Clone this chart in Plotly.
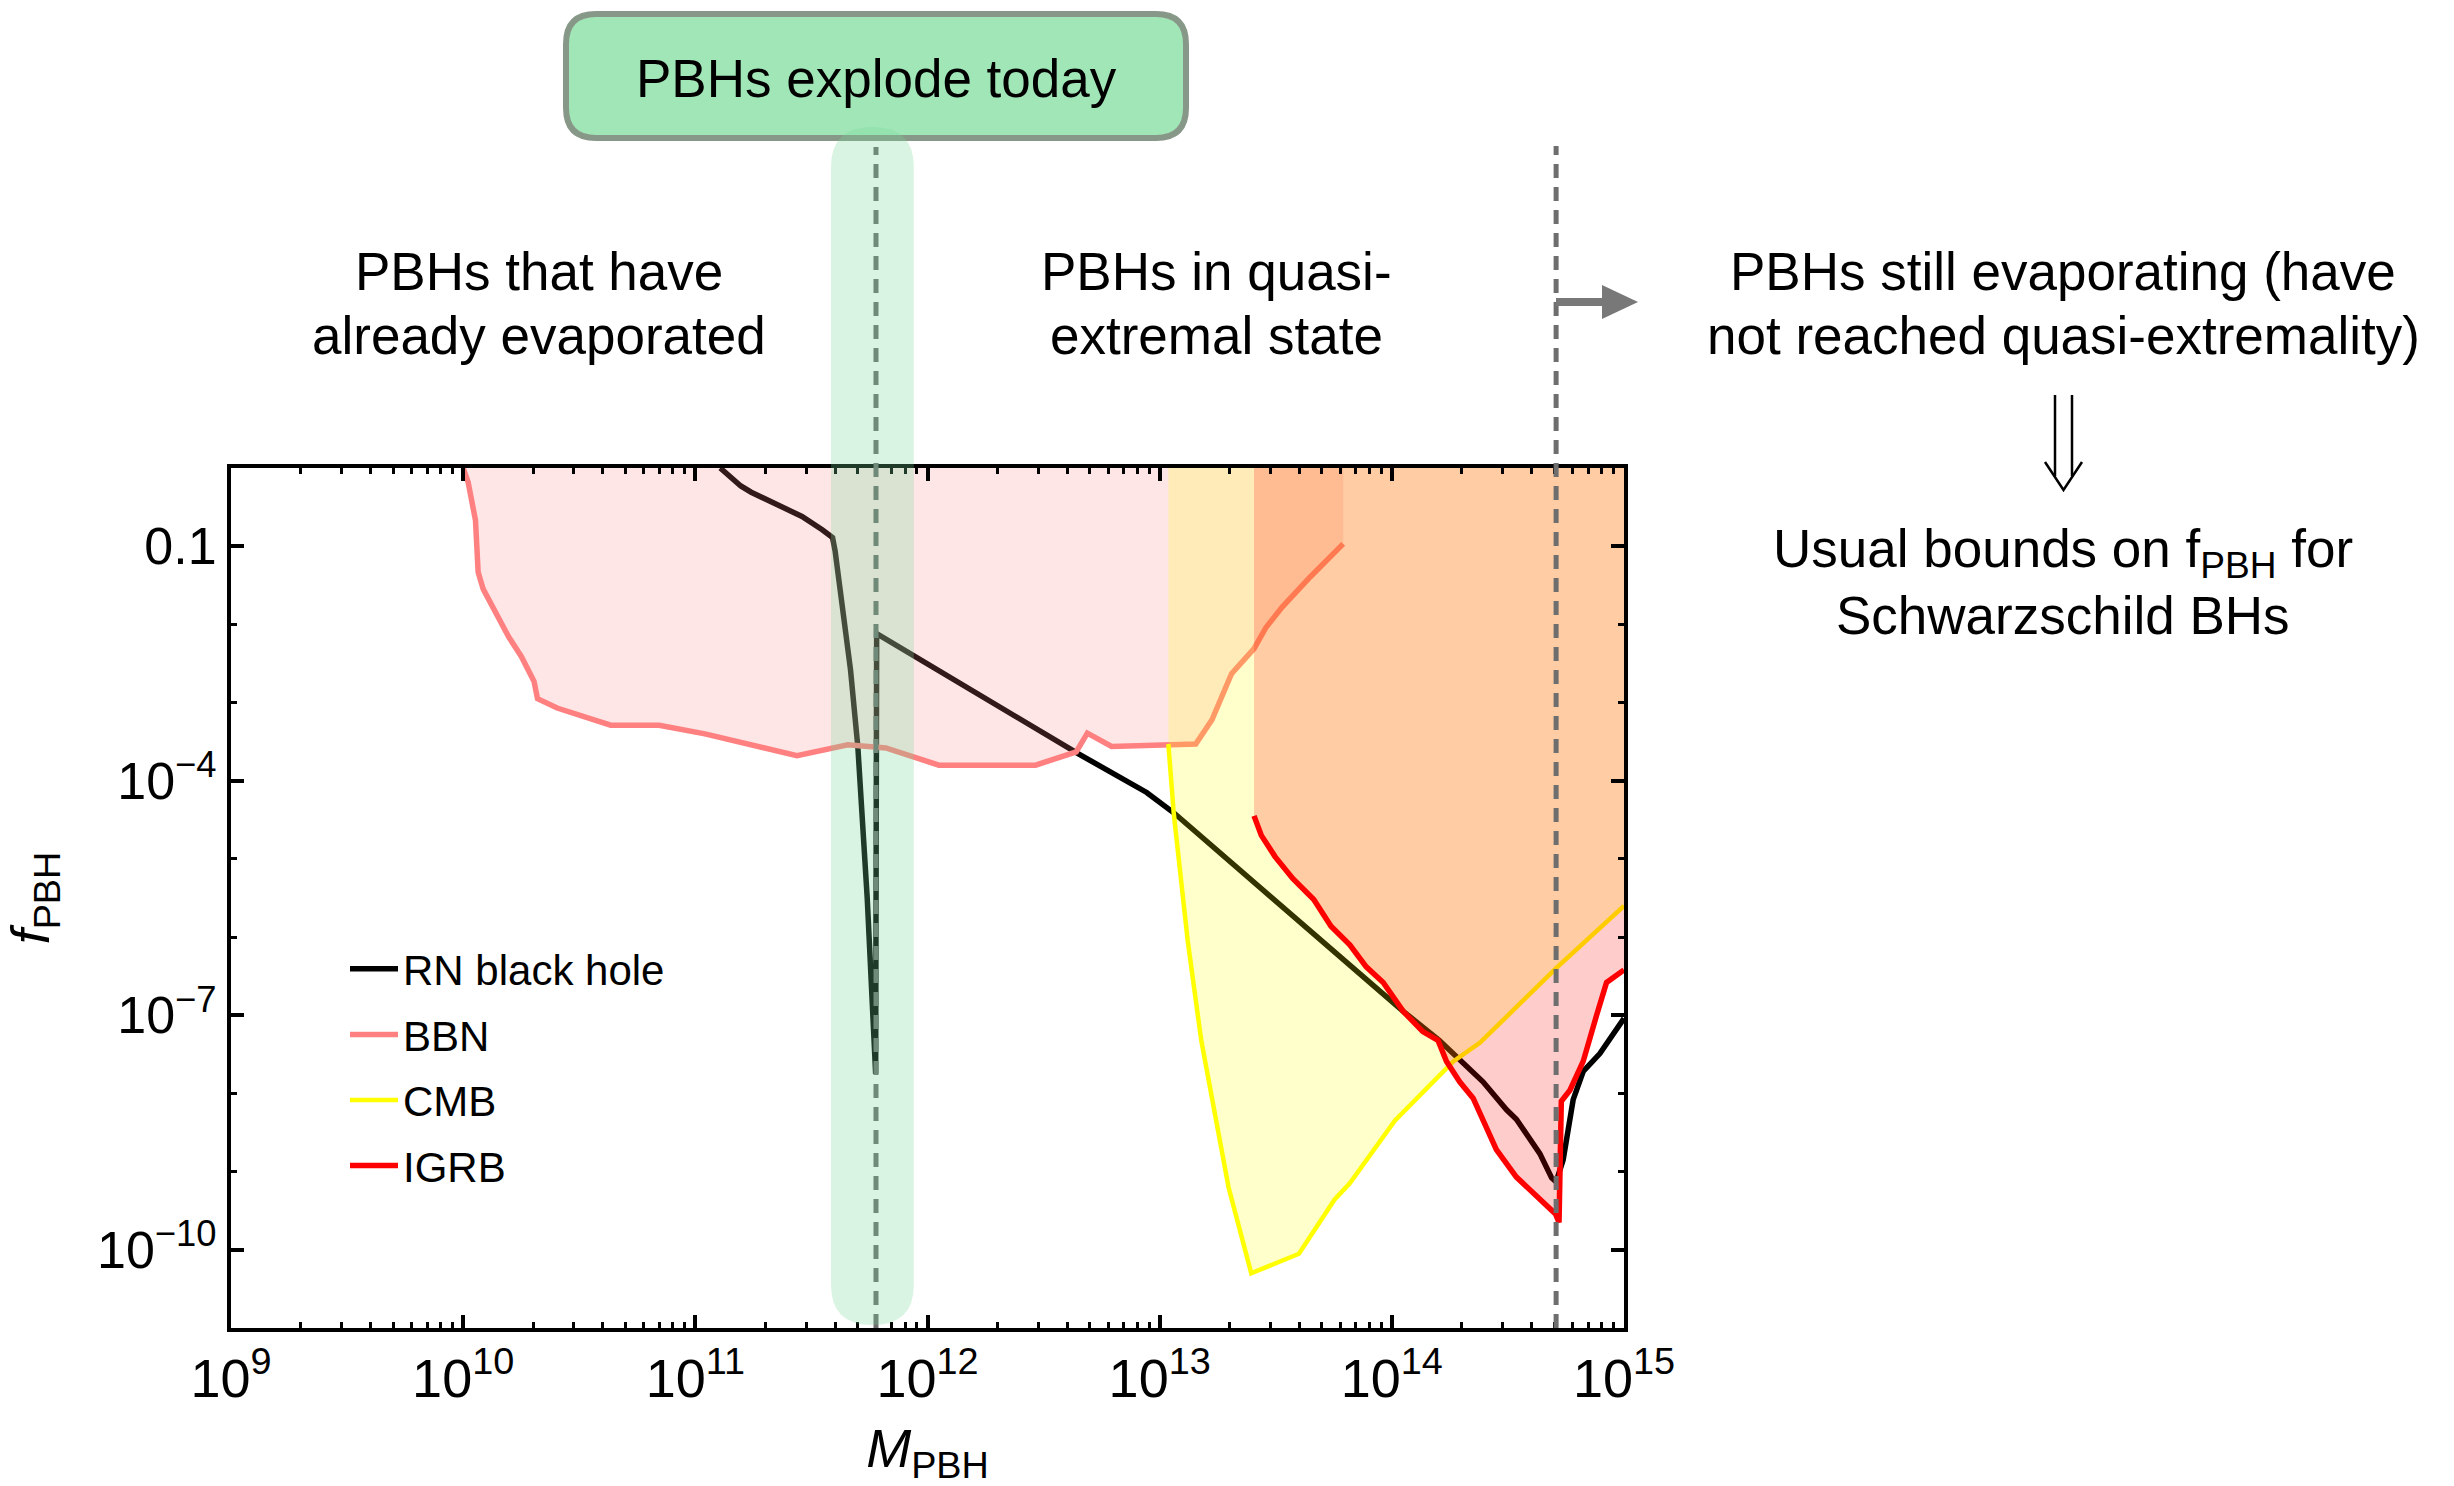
import math
import plotly.graph_objects as go

# ---------------- data ----------------
# RN black hole bound (M_PBH [g], f_PBH)
RN_M = [1.28e11, 1.57e11, 1.74e11, 2.88e11, 3.52e11, 3.90e11, 4.00e11, 4.32e11,
        4.66e11, 5.01e11, 5.50e11, 5.98e11, 6.04e11, 4.49e12, 8.79e12, 1.15e13,
        1.12e14, 1.60e14, 1.90e14, 2.47e14, 3.12e14, 3.44e14, 4.34e14, 4.88e14,
        5.10e14, 5.47e14, 6.04e14, 6.67e14, 7.87e14, 1.0e15]
RN_F = [1.0, 0.589, 0.490, 0.240, 0.162, 0.129, 0.0871, 0.0141,
        2.63e-3, 2.75e-4, 3.16e-6, 1.78e-8, 7.59e-3, 2.19e-4, 7.08e-5, 3.89e-5,
        1.12e-7, 4.79e-8, 2.95e-8, 1.41e-8, 6.17e-9, 4.68e-9, 1.70e-9, 8.32e-10,
        7.41e-10, 1.41e-9, 8.32e-9, 1.91e-8, 3.24e-8, 9.12e-8]

# BBN bound
BBN_M = [1.0e10, 1.05e10, 1.13e10, 1.16e10, 1.22e10, 1.38e10, 1.57e10, 1.78e10,
         2.02e10, 2.09e10, 2.54e10, 4.32e10, 6.98e10, 1.10e11, 2.74e11, 4.54e11,
         6.61e11, 1.12e12, 2.92e12, 4.37e12, 4.88e12, 6.21e12, 1.09e13, 1.43e13,
         1.68e13, 2.04e13, 2.55e13, 2.87e13, 3.37e13, 4.46e13, 6.17e13]
BBN_F = [1.0, 0.661, 0.214, 0.0468, 0.0282, 0.0141, 6.92e-3, 3.89e-3,
         1.86e-3, 1.12e-3, 8.51e-4, 5.13e-4, 5.13e-4, 3.98e-4, 2.09e-4, 2.88e-4,
         2.63e-4, 1.58e-4, 1.58e-4, 2.34e-4, 4.07e-4, 2.75e-4, 2.95e-4, 2.95e-4,
         6.03e-4, 2.34e-3, 4.90e-3, 9.12e-3, 0.0166, 0.0407, 0.107]

# CMB bound
CMB_M = [1.09e13, 1.15e13, 1.32e13, 1.51e13, 1.98e13, 2.48e13, 3.98e13, 5.66e13,
         6.59e13, 1.03e14, 1.84e14, 2.40e14, 5.13e14, 1.0e15]
CMB_F = [2.95e-4, 3.80e-5, 9.12e-7, 4.79e-8, 6.31e-10, 5.01e-11, 8.91e-11, 4.37e-10,
         7.08e-10, 4.47e-9, 2.57e-8, 4.47e-8, 4.07e-7, 2.51e-6]

# IGRB bound
IGRB_M = [2.55e13, 2.74e13, 3.14e13, 3.74e13, 4.61e13, 5.47e13, 6.59e13, 7.76e13,
          9.18e13, 1.12e14, 1.36e14, 1.58e14, 1.72e14, 1.96e14, 2.24e14, 2.47e14,
          2.82e14, 3.44e14, 4.17e14, 4.57e14, 5.07e14, 5.25e14, 5.37e14, 5.85e14,
          6.67e14, 7.62e14, 8.41e14, 1.0e15]
IGRB_F = [3.55e-5, 2.00e-5, 1.07e-5, 5.62e-6, 3.02e-6, 1.38e-6, 7.94e-7, 4.17e-7,
          2.63e-7, 1.12e-7, 6.17e-8, 4.79e-8, 2.57e-8, 1.41e-8, 8.71e-9, 4.47e-9,
          1.91e-9, 8.51e-10, 4.90e-10, 3.80e-10, 2.88e-10, 2.24e-10, 7.94e-9, 1.10e-8,
          2.57e-8, 1.0e-7, 2.63e-7, 3.80e-7]

# axes
X_RANGE_LOG = [9, 15]
Y_RANGE_LOG = [-11, 0]
Y_TOP = 1.0
X_TICKS = [1e9, 1e10, 1e11, 1e12, 1e13, 1e14, 1e15]
X_TICKTEXT = ["10<sup>9</sup>", "10<sup>10</sup>", "10<sup>11</sup>", "10<sup>12</sup>",
              "10<sup>13</sup>", "10<sup>14</sup>", "10<sup>15</sup>"]
Y_TICKS = [1e-1, 1e-4, 1e-7, 1e-10]
Y_TICKTEXT = ["0.1", "10<sup>\u22124</sup>", "10<sup>\u22127</sup>", "10<sup>\u221210</sup>"]
X_MINOR = [k * 10.0 ** n for n in range(9, 15) for k in range(2, 10)]
Y_MINOR = [1e0, 1e-2, 1e-3, 1e-5, 1e-6, 1e-8, 1e-9, 1e-11]

# special masses
M_EXPLODE = 6.0e11          # PBHs exploding today
BAND_M = [3.84e11, 8.73e11]  # green band
M_QUASI = 5.1e14            # boundary of quasi-extremal state

FONT = "Liberation Sans, Arial, Helvetica, sans-serif"

# figure geometry (pixels)
W, H = 2454, 1486
ML, MR, MT, MB = 231, 830, 468, 158
PW, PH = W - ML - MR, H - MT - MB


def px(xpix):
    return (xpix - ML) / PW


def py(ypix):
    return (H - MB - ypix) / PH


def closed(xs, ys, x_end, x_start):
    return xs + [x_end, x_start], ys + [Y_TOP, Y_TOP]


fig = go.Figure()

# lines first (fills are drawn translucently over them)
fig.add_trace(go.Scatter(x=RN_M, y=RN_F, mode="lines", name="RN black hole",
                         line=dict(color="black", width=5.5), hoverinfo="skip"))
fig.add_trace(go.Scatter(x=BBN_M, y=BBN_F, mode="lines", name="BBN",
                         line=dict(color="rgb(255,128,128)", width=5.5), hoverinfo="skip"))
fig.add_trace(go.Scatter(x=CMB_M, y=CMB_F, mode="lines", name="CMB",
                         line=dict(color="rgb(255,255,0)", width=4.5), hoverinfo="skip"))

bx, by = closed(BBN_M, BBN_F, BBN_M[-1], BBN_M[0])
fig.add_trace(go.Scatter(x=bx, y=by, mode="lines", fill="toself", line=dict(width=0),
                         fillcolor="rgba(255,128,128,0.2)", showlegend=False, hoverinfo="skip"))
cx, cy = closed(CMB_M, CMB_F, CMB_M[-1], CMB_M[0])
fig.add_trace(go.Scatter(x=cx, y=cy, mode="lines", fill="toself", line=dict(width=0),
                         fillcolor="rgba(255,255,0,0.2)", showlegend=False, hoverinfo="skip"))
ix, iy = closed(IGRB_M, IGRB_F, IGRB_M[-1], IGRB_M[0])
fig.add_trace(go.Scatter(x=ix, y=iy, mode="lines", fill="toself", line=dict(width=0),
                         fillcolor="rgba(255,0,0,0.2)", showlegend=False, hoverinfo="skip"))

fig.add_trace(go.Scatter(x=IGRB_M, y=IGRB_F, mode="lines", name="IGRB",
                         line=dict(color="rgb(255,0,0)", width=5.5), hoverinfo="skip"))

shapes = []
# rounded green box
bx0, bx1, by0, by1 = px(566), px(1186), py(138), py(14)
rx, ry = 30 / PW, 30 / PH
box_path = (f"M{bx0+rx},{by0} L{bx1-rx},{by0} Q{bx1},{by0} {bx1},{by0+ry} "
            f"L{bx1},{by1-ry} Q{bx1},{by1} {bx1-rx},{by1} L{bx0+rx},{by1} "
            f"Q{bx0},{by1} {bx0},{by1-ry} L{bx0},{by0+ry} Q{bx0},{by0} {bx0+rx},{by0} Z")
shapes.append(dict(type="path", xref="paper", yref="paper", path=box_path,
                   fillcolor="rgb(160,230,182)", line=dict(color="rgb(136,152,136)", width=6),
                   layer="above"))

# dashed vertical lines
for m, ytop in [(M_EXPLODE, py(147)), (M_QUASI, py(146))]:
    shapes.append(dict(type="line", xref="x", yref="paper", x0=m, x1=m, y0=0, y1=ytop,
                       line=dict(color="rgb(110,110,110)", width=5, dash="14px,9px"),
                       layer="above"))

# green translucent band with rounded ends
x0b, x1b = BAND_M
xmb = 10 ** ((math.log10(x0b) + math.log10(x1b)) / 2)
yb, yt = py(1325), py(127)
rr = 40 / PH
band_path = (f"M{x0b:.0f},{yb+rr} L{x0b:.0f},{yt-rr} Q{x0b:.0f},{yt} {xmb:.0f},{yt} "
             f"Q{x1b:.0f},{yt} {x1b:.0f},{yt-rr} L{x1b:.0f},{yb+rr} "
             f"Q{x1b:.0f},{yb} {xmb:.0f},{yb} Q{x0b:.0f},{yb} {x0b:.0f},{yb+rr} Z")
shapes.append(dict(type="path", xref="x", yref="paper", path=band_path,
                   fillcolor="rgba(120,214,150,0.27)", line=dict(width=0), layer="above"))

# grey arrow pointing right
shapes.append(dict(type="line", xref="paper", yref="paper", x0=px(1556), x1=px(1606),
                   y0=py(302), y1=py(302), line=dict(color="rgb(120,120,120)", width=8)))
shapes.append(dict(type="path", xref="paper", yref="paper",
                   path=f"M{px(1602)},{py(285)} L{px(1638)},{py(302)} L{px(1602)},{py(319)} Z",
                   fillcolor="rgb(120,120,120)", line=dict(width=0)))

# double arrow (⇓)
for xs in (2055, 2072):
    shapes.append(dict(type="line", xref="paper", yref="paper", x0=px(xs), x1=px(xs),
                       y0=py(395), y1=py(476), line=dict(color="black", width=2.5)))
shapes.append(dict(type="path", xref="paper", yref="paper",
                   path=f"M{px(2045)},{py(462)} L{px(2063.5)},{py(490)} L{px(2082)},{py(462)}",
                   line=dict(color="black", width=2.5)))

annotations = []


def text(t, xpix, ypix, size=53):
    annotations.append(dict(text=t, x=px(xpix), y=py(ypix), xref="paper", yref="paper",
                            showarrow=False, xanchor="center", yanchor="middle",
                            font=dict(family=FONT, size=size, color="black")))


text("PBHs explode today", 876, 78)
text("PBHs that have", 539, 272)
text("already evaporated", 539, 335)
text("PBHs in quasi-", 1216, 272)
text("extremal state", 1216, 335)
text("PBHs still evaporating (have", 2063, 272)
text("not reached quasi-extremality)", 2063, 335)
text("Usual bounds on f<sub>PBH</sub> for", 2063, 552)
text("Schwarzschild BHs", 2063, 615)

axis_common = dict(showline=True, linecolor="black", linewidth=4, mirror="ticks",
                   ticks="inside", ticklen=13, tickwidth=3.5, tickcolor="black",
                   showgrid=False, zeroline=False)

fig.update_layout(
    width=W, height=H,
    margin=dict(l=ML, r=MR, t=MT, b=MB, autoexpand=False),
    paper_bgcolor="white", plot_bgcolor="white",
    font=dict(family=FONT, color="black"),
    xaxis=dict(type="log", range=X_RANGE_LOG, tickmode="array", tickvals=X_TICKS,
               ticktext=X_TICKTEXT, tickfont=dict(size=54),
               minor=dict(tickmode="array", tickvals=X_MINOR, ticks="inside", ticklen=6,
                          tickwidth=3, tickcolor="black", showgrid=False),
               title=dict(text="<i>M</i><sub>PBH</sub>", font=dict(size=54), standoff=26),
               **axis_common),
    yaxis=dict(type="log", range=Y_RANGE_LOG, tickmode="array", tickvals=Y_TICKS,
               ticktext=Y_TICKTEXT, tickfont=dict(size=52),
               minor=dict(tickmode="array", tickvals=Y_MINOR, ticks="inside", ticklen=6,
                          tickwidth=3, tickcolor="black", showgrid=False),
               title=dict(text="<i>f</i><sub>PBH</sub>", font=dict(size=54), standoff=45),
               **axis_common),
    legend=dict(x=px(345), y=py(935), xanchor="left", yanchor="top",
                font=dict(family=FONT, size=42, color="black"), bgcolor="rgba(0,0,0,0)",
                itemwidth=48, tracegroupgap=8, traceorder="grouped"),
    shapes=shapes,
    annotations=annotations,
    showlegend=True,
)

for i, tr in enumerate(fig.data):
    tr.legendgroup = f"g{i}"

fig.write_html("out.html")
